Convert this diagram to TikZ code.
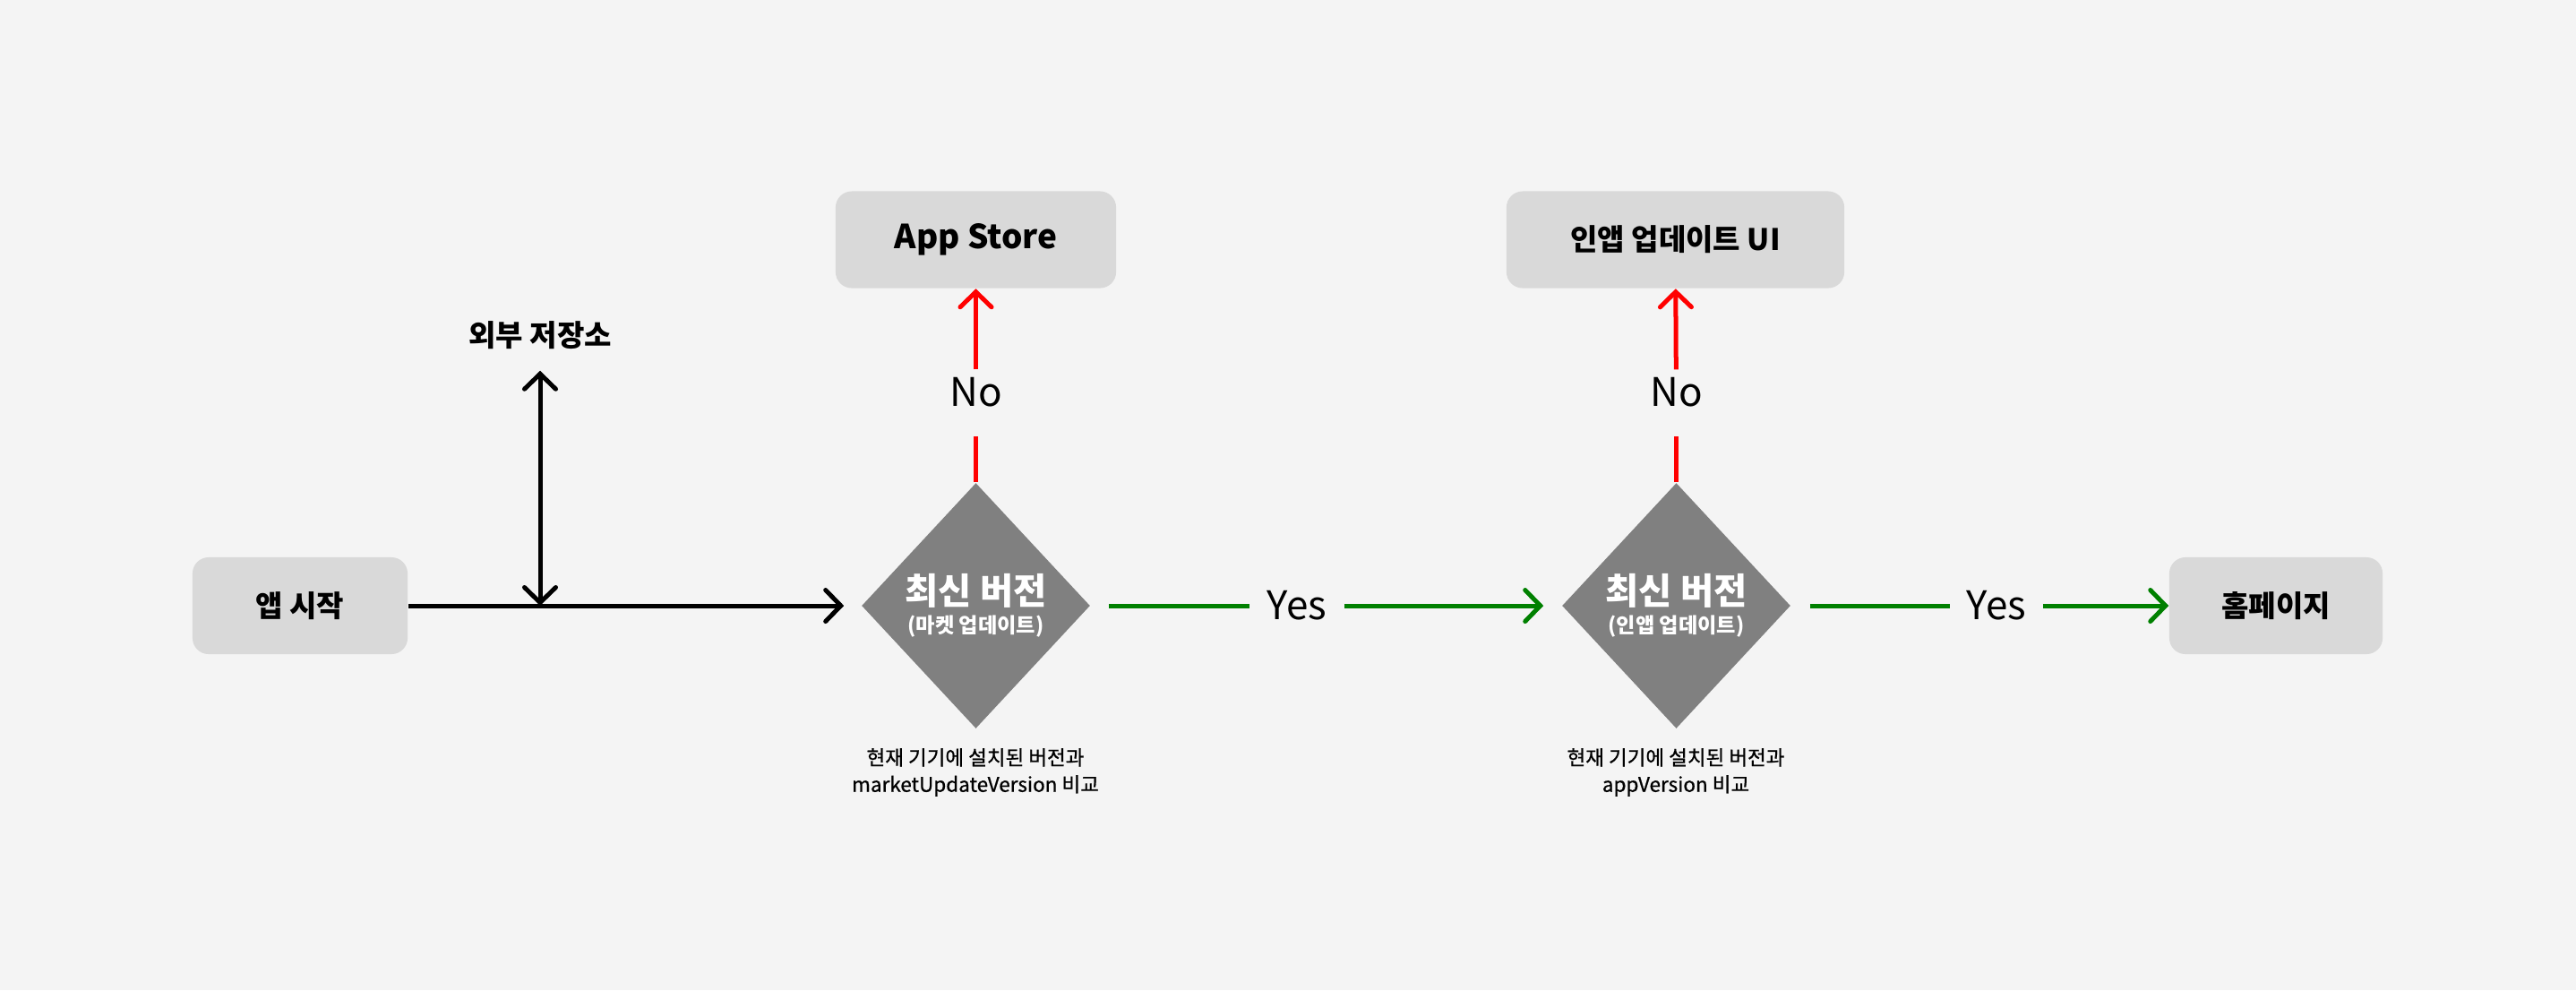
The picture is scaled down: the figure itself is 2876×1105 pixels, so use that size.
\documentclass[tikz,border=0pt]{standalone}
\usepackage{fontspec}
\setmainfont{Noto Sans CJK KR}
\usetikzlibrary{shapes.geometric,arrows.meta}

\definecolor{bgc}{HTML}{F4F4F4}
\definecolor{boxc}{HTML}{D9D9D9}
\definecolor{diac}{HTML}{808080}
\definecolor{yesc}{HTML}{008000}
\definecolor{noc}{HTML}{FF0000}

\tikzset{
  chev/.tip={Straight Barb[length=0.17cm,width=0.35cm,line cap=round]},
  box/.style={fill=boxc, rounded corners=0.18cm, inner sep=0,
    minimum height=1.08cm, font=\fontsize{9.4}{11}\selectfont\bfseries},
  dia/.style={diamond, fill=diac, text=white, inner sep=0, align=center,
    minimum width=2.55cm, minimum height=2.74cm,
    font=\fontsize{11.5}{12}\selectfont\bfseries},
  note/.style={align=center, inner sep=0,
    font=\fontsize{6.4}{8.5}\selectfont\addfontfeatures{FakeBold=0.8}},
  lbl/.style={inner sep=0, font=\fontsize{12.5}{14}\selectfont},
  flow/.style={line width=0.05cm},
}

\begin{document}
\begin{tikzpicture}[x=0.01cm, y=-0.01cm]
  \fill[bgc] (0,0) rectangle (2876,1105);
  % boxes
  \node[box, minimum width=2.4cm] (start) at (335,676) {앱 시작};
  \node[box, minimum width=3.13cm, font=\fontsize{10.5}{12}\selectfont\bfseries] (appstore) at (1089.5,267.5) {App Store};
  \node[box, minimum width=3.77cm] (inapp) at (1870.5,267.5) {인앱 업데이트 UI};
  \node[box, minimum width=2.38cm] (home) at (2541,676) {홈페이지};
  \node[inner sep=0, minimum height=0.78cm, font=\fontsize{9.4}{11}\selectfont\bfseries] (store) at (603,374) {외부 저장소};
  \coordinate (j) at (603,676);
  % decisions
  \node[dia] (dia1) at (1089.5,676) {최신 버전\\[-3pt]{\fontsize{6.6}{7}\selectfont (마켓 업데이트)}};
  \node[dia] (dia2) at (1871.5,676) {최신 버전\\[-3pt]{\fontsize{6.6}{7}\selectfont (인앱 업데이트)}};
  \node[note] (note1) at (1089,862) {현재 기기에 설치된 버전과\\marketUpdateVersion 비교};
  \node[note] (note2) at (1871,862) {현재 기기에 설치된 버전과\\appVersion 비교};
  % labels
  \node[lbl, text height=0.4cm, text depth=0.33cm, anchor=base] (no1) at (1089.5,453) {No};
  \node[lbl, text height=0.4cm, text depth=0.33cm, anchor=base] (no2) at (1871.5,453) {No};
  \node[lbl, inner xsep=0.19cm] (yes1) at (1448,676) {Yes};
  \node[lbl, inner xsep=0.18cm] (yes2) at (2229,676) {Yes};
  % connectors
  \draw[flow, -chev, shorten >=0.19cm] (start) -- (dia1);
  \draw[flow, chev-chev] (store.south) -- (j);
  \draw[flow, noc] (dia1) -- (no1);
  \draw[flow, noc, -chev] (no1) -- (appstore);
  \draw[flow, noc] (dia2) -- (no2);
  \draw[flow, noc, -chev] (no2) -- (inapp);
  \draw[flow, yesc, shorten <=0.2cm] (dia1) -- (yes1);
  \draw[flow, yesc, -chev, shorten >=0.2cm] (yes1) -- (dia2);
  \draw[flow, yesc, shorten <=0.21cm] (dia2) -- (yes2);
  \draw[flow, yesc, -chev] (yes2) -- (home);
\end{tikzpicture}
\end{document}
